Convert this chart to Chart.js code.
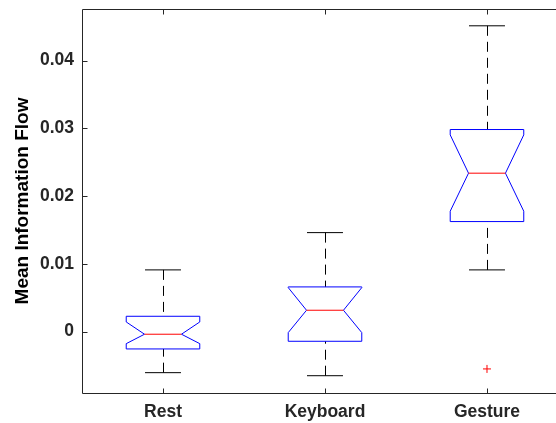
<!DOCTYPE html>
<html>
<head>
<meta charset="utf-8">
<script src="https://cdn.jsdelivr.net/npm/chart.js@4"></script>
<style>
    html, body { margin: 0; padding: 0; background: #fff; overflow: hidden; }
    #box-chart { display: block; }
</style>
</head>
<body>
<canvas id="box-chart" width="556" height="423"></canvas>
<script>
// Notched box plot of mean information flow per condition

const categories = ['Rest', 'Keyboard', 'Gesture'];
const lowerWhisker = [-0.00605, -0.0065, 0.00911];
const q1 = [-0.00255, -0.00142, 0.01624];
const notchLow = [-0.00177, -0.00014, 0.01777];
const median = [-0.00038, 0.00316, 0.02338];
const notchHigh = [0.00143, 0.0065, 0.02903];
const q3 = [0.00227, 0.0066, 0.02982];
const upperWhisker = [0.00911, 0.01461, 0.04512];
const outliers = [{ x: 3, y: -0.0055 }];

const yTickValues = [0, 0.01, 0.02, 0.03, 0.04];
const yTickLabels = ['0', '0.01', '0.02', '0.03', '0.04'];

const AXIS_COLOR = '#262626';
const FONT = '"Liberation Sans", Arial, Helvetica, sans-serif';

// whiskers, caps, notched box and median, all placed through the scales
const notchedBoxPlugin = {
    id: 'notchedBoxes',
    afterDatasetsDraw(chart) {
        const { ctx, scales: { x, y } } = chart;
        const boxHalf = 0.227;
        const notchHalf = 0.114;
        const capHalf = 0.111;

        const seg = (x1, y1, x2, y2) => {
            ctx.beginPath();
            ctx.moveTo(x1, y1);
            ctx.lineTo(x2, y2);
            ctx.stroke();
        };

        categories.forEach((name, i) => {
            const pos = i + 1;
            const px = v => x.getPixelForValue(v);
            const py = v => y.getPixelForValue(v);
            const cx = Math.round(px(pos)) + 0.5;

            ctx.save();
            ctx.lineWidth = 1;
            ctx.strokeStyle = '#000';

            // dashed whiskers
            ctx.setLineDash([10, 6]);
            seg(cx, py(upperWhisker[i]), cx, py(q3[i]));
            seg(cx, py(lowerWhisker[i]), cx, py(q1[i]));
            ctx.setLineDash([]);

            // caps
            seg(px(pos - capHalf), py(upperWhisker[i]), px(pos + capHalf), py(upperWhisker[i]));
            seg(px(pos - capHalf), py(lowerWhisker[i]), px(pos + capHalf), py(lowerWhisker[i]));

            // notched box
            ctx.strokeStyle = '#0000ff';
            ctx.beginPath();
            ctx.moveTo(px(pos - boxHalf), py(q3[i]));
            ctx.lineTo(px(pos + boxHalf), py(q3[i]));
            ctx.lineTo(px(pos + boxHalf), py(notchHigh[i]));
            ctx.lineTo(px(pos + notchHalf), py(median[i]));
            ctx.lineTo(px(pos + boxHalf), py(notchLow[i]));
            ctx.lineTo(px(pos + boxHalf), py(q1[i]));
            ctx.lineTo(px(pos - boxHalf), py(q1[i]));
            ctx.lineTo(px(pos - boxHalf), py(notchLow[i]));
            ctx.lineTo(px(pos - notchHalf), py(median[i]));
            ctx.lineTo(px(pos - boxHalf), py(notchHigh[i]));
            ctx.closePath();
            ctx.stroke();

            // median
            ctx.strokeStyle = '#ff0000';
            seg(px(pos - notchHalf), py(median[i]), px(pos + notchHalf), py(median[i]));
            ctx.restore();
        });
    }
};

// MATLAB-style frame: top, left and bottom edges with inward ticks
const framePlugin = {
    id: 'frame',
    afterDraw(chart) {
        const { ctx, chartArea: a, scales: { x, y } } = chart;
        const tick = 5;
        const left = Math.round(a.left) + 0.5;
        const top = Math.round(a.top) + 0.5;
        const bottom = Math.round(a.bottom) + 0.5;
        ctx.save();
        ctx.strokeStyle = AXIS_COLOR;
        ctx.lineWidth = 1;
        ctx.beginPath();
        ctx.moveTo(chart.width, top);
        ctx.lineTo(left, top);
        ctx.lineTo(left, bottom);
        ctx.lineTo(chart.width, bottom);

        x.ticks.forEach(t => {
            const xp = Math.round(x.getPixelForValue(t.value)) + 0.5;
            ctx.moveTo(xp, bottom);
            ctx.lineTo(xp, bottom - tick);
            ctx.moveTo(xp, top);
            ctx.lineTo(xp, top + tick);
        });
        y.ticks.forEach(t => {
            const yp = Math.round(y.getPixelForValue(t.value)) + 0.5;
            ctx.moveTo(left, yp);
            ctx.lineTo(left + tick, yp);
        });
        ctx.stroke();
        ctx.restore();
    }
};

const ctx = document.getElementById('box-chart').getContext('2d');

new Chart(ctx, {
    type: 'scatter',
    data: {
        datasets: [{
            label: 'Outliers',
            data: outliers,
            pointStyle: 'cross',
            pointRadius: 4,
            pointHoverRadius: 4,
            pointBorderWidth: 1,
            borderColor: '#ff0000',
            backgroundColor: '#ff0000'
        }]
    },
    options: {
        responsive: false,
        animation: false,
        devicePixelRatio: 1,
        layout: { autoPadding: false, padding: { left: 0, top: 9, right: 0, bottom: 0 } },
        plugins: {
            legend: { display: false },
            tooltip: { enabled: false }
        },
        scales: {
            x: {
                type: 'linear',
                min: 0.5,
                max: 3.426, // the axes run past the right edge of the figure
                grid: { display: false, drawTicks: false },
                border: { display: false },
                afterBuildTicks: axis => {
                    axis.ticks = categories.map((c, i) => ({ value: i + 1 }));
                },
                afterFit: axis => {
                    axis.height = 30;
                    axis.paddingLeft = 0;
                    axis.paddingRight = 0;
                },
                ticks: {
                    padding: 9,
                    color: AXIS_COLOR,
                    font: { family: FONT, size: 17.5, weight: 'bold' },
                    callback: v => categories[v - 1]
                }
            },
            y: {
                min: -0.00905,
                max: 0.0476,
                grid: { display: false, drawTicks: false },
                border: { display: false },
                afterBuildTicks: axis => {
                    axis.ticks = yTickValues.map(v => ({ value: v }));
                },
                afterFit: axis => {
                    axis.width = 82;
                    axis.paddingTop = 0;
                    axis.paddingBottom = 0;
                },
                ticks: {
                    padding: 8,
                    color: AXIS_COLOR,
                    font: { family: FONT, size: 17.5, weight: 'bold' },
                    callback: v => yTickLabels[yTickValues.indexOf(v)]
                },
                title: {
                    display: true,
                    text: 'Mean Information Flow',
                    color: '#000',
                    padding: { top: 11, bottom: 0 },
                    font: { family: FONT, size: 19, weight: 'bold' }
                }
            }
        }
    },
    plugins: [notchedBoxPlugin, framePlugin]
});
</script>
</body>
</html>
